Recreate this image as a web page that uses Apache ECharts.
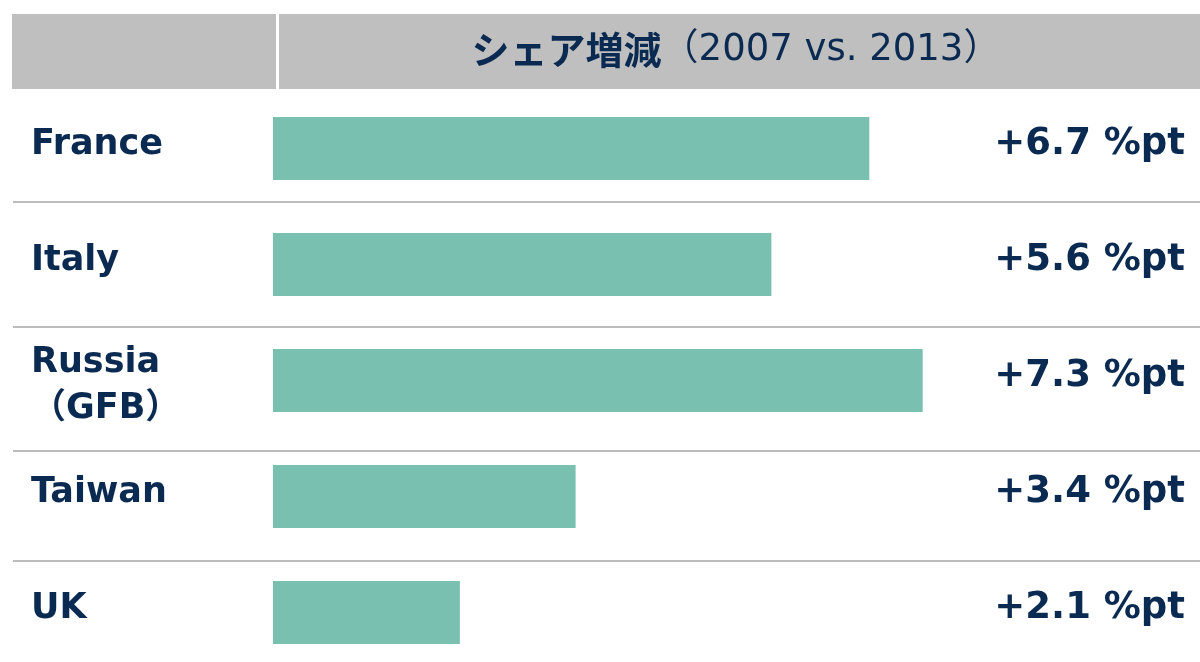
<!DOCTYPE html>
<html>
<head>
<meta charset="utf-8">
<script src="https://cdn.jsdelivr.net/npm/echarts@6/dist/echarts.min.js"></script>
<style>
html,body{margin:0;padding:0;background:#fff;}
#chart{width:1200px;height:662px;}
</style>
</head>
<body>
<div id="chart"></div>
<script>
var categories = ['France', 'Italy', 'Russia\n（GFB）', 'Taiwan', 'UK'];
var values = [6.7, 5.6, 7.3, 3.4, 2.1];
var valueLabels = values.map(function (v) { return '+' + v.toFixed(1) + ' %pt'; });
var titleMain = 'シェア増減';
var titleSub = '（2007 vs. 2013）';

var NAVY = '#0a2a52';
var LATIN = '"DejaVu Sans", "Noto Sans CJK JP", sans-serif';
var JP = '"Noto Sans CJK JP", "DejaVu Sans", sans-serif';

var chart = echarts.init(document.getElementById('chart'), null, {renderer: 'canvas'});

var sepYs = [202, 327, 451, 561];
var graphics = [
  {type: 'rect', shape: {x: 12, y: 14, width: 1188, height: 75}, style: {fill: '#bfbfbf'}, z: 0},
  {type: 'rect', shape: {x: 276, y: 14, width: 3, height: 75}, style: {fill: '#ffffff'}, z: 1},
  {type: 'text', x: 736, y: 50, z: 2, style: {
    text: '{a|' + titleMain + '}{b|' + titleSub + '}',
    align: 'center', verticalAlign: 'middle',
    rich: {
      a: {fontFamily: JP, fontWeight: 'bold', fontSize: 38, fill: NAVY},
      b: {fontFamily: LATIN, fontWeight: 'normal', fontSize: 37, fill: NAVY}
    }
  }}
];
sepYs.forEach(function (y) {
  graphics.push({type: 'line', shape: {x1: 13, y1: y, x2: 1200, y2: y}, style: {stroke: '#a6a6a6', lineWidth: 1.5}, z: 0});
});

function fmt(v) {
  if (v.indexOf('\n') >= 0) {
    return '{top| }\n' + v.split('\n').map(function (l) { return '{n|' + l + '}'; }).join('\n');
  }
  return '{n|' + v + '}\n{bot| }';
}

chart.setOption({
  backgroundColor: '#ffffff',
  animation: false,
  graphic: graphics,
  grid: {left: 273, width: 890, top: 148.5, height: 464, containLabel: false},
  xAxis: {type: 'value', min: 0, max: 10, show: false, splitLine: {show: false}},
  yAxis: [
    {
      type: 'category', data: categories, inverse: true, position: 'left', boundaryGap: false,
      axisLine: {show: false}, axisTick: {show: false}, splitLine: {show: false},
      axisLabel: {
        align: 'left', margin: 242, formatter: fmt,
        rich: {
          n: {color: NAVY, fontFamily: LATIN, fontWeight: 'bold', fontSize: 35, lineHeight: 46},
          top: {fontSize: 1, lineHeight: 10},
          bot: {fontSize: 1, lineHeight: 8}
        }
      }
    },
    {
      type: 'category', data: valueLabels, inverse: true, position: 'right', boundaryGap: false,
      axisLine: {show: false}, axisTick: {show: false}, splitLine: {show: false},
      axisLabel: {
        align: 'right', margin: 22, formatter: fmt,
        rich: {
          n: {color: NAVY, fontFamily: LATIN, fontWeight: 'bold', fontSize: 37, lineHeight: 46},
          top: {fontSize: 1, lineHeight: 10},
          bot: {fontSize: 1, lineHeight: 8}
        }
      }
    }
  ],
  series: [{
    type: 'bar', data: values, yAxisIndex: 0, barWidth: 63,
    itemStyle: {color: '#7ac0b1'}, z: 3
  }]
});
</script>
</body>
</html>
